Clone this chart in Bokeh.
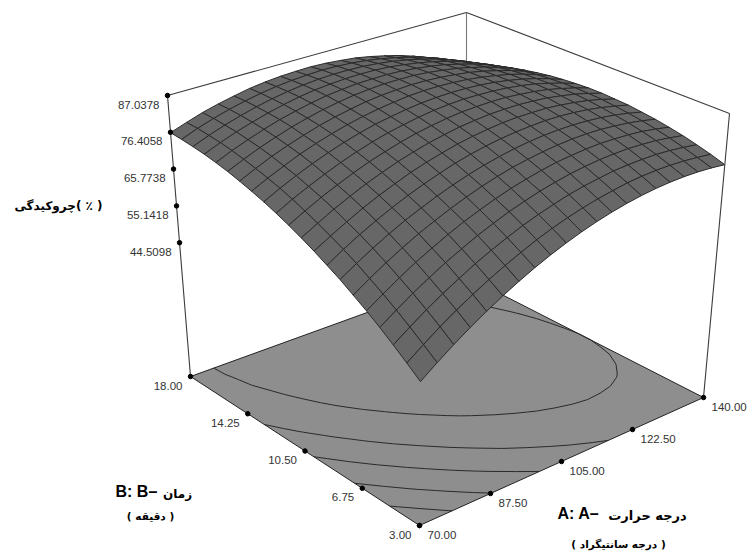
import numpy as np
from contourpy import contour_generator
from bokeh.plotting import figure
from bokeh.models import Range1d
from bokeh.core.properties import value
from bokeh.embed import file_html
from bokeh.resources import INLINE

# ---- data ----
A_ticks = [70.00, 87.50, 105.00, 122.50, 140.00]
A_labels = ["70.00", "87.50", "105.00", "122.50", "140.00"]
B_ticks = [3.00, 6.75, 10.50, 14.25, 18.00]
B_labels = ["3.00", "6.75", "10.50", "14.25", "18.00"]
Z_ticks = [44.5098, 55.1418, 65.7738, 76.4058, 87.0378]
Z_labels = ["44.5098", "55.1418", "65.7738", "76.4058", "87.0378"]
Z_floor = 5.84
contour_levels = [78.7, 71.5, 65.0, 58.0, 51.0]

A_grid = [70.0, 73.5, 77.0, 80.5, 84.0, 87.5, 91.0, 94.5, 98.0, 101.5, 105.0,
          108.5, 112.0, 115.5, 119.0, 122.5, 126.0, 129.5, 133.0, 136.5, 140.0]
B_grid = [3.0, 3.75, 4.5, 5.25, 6.0, 6.75, 7.5, 8.25, 9.0, 9.75, 10.5,
          11.25, 12.0, 12.75, 13.5, 14.25, 15.0, 15.75, 16.5, 17.25, 18.0]
# one row per B_grid value, one column per A_grid value
shrinkage = [
 [44.4,47.7,50.8,53.7,56.4,58.9,61.2,63.3,65.2,66.9,68.4,69.7,70.8,71.7,72.4,72.9,73.2,73.3,73.2,72.9,72.4],
 [47.3,50.5,53.6,56.4,59.0,61.4,63.6,65.6,67.5,69.1,70.5,71.7,72.7,73.5,74.2,74.6,74.8,74.8,74.6,74.2,73.7],
 [50.1,53.2,56.2,58.9,61.4,63.8,65.9,67.8,69.6,71.1,72.4,73.6,74.5,75.2,75.8,76.1,76.2,76.2,75.9,75.4,74.8],
 [52.8,55.8,58.7,61.3,63.8,66.0,68.1,69.9,71.6,73.0,74.3,75.3,76.2,76.8,77.3,77.5,77.6,77.4,77.1,76.5,75.8],
 [55.3,58.2,61.0,63.6,65.9,68.1,70.1,71.8,73.4,74.8,75.9,76.9,77.7,78.2,78.6,78.8,78.7,78.5,78.1,77.4,76.6],
 [57.6,60.5,63.2,65.7,68.0,70.0,71.9,73.6,75.1,76.4,77.5,78.3,79.0,79.5,79.8,79.9,79.8,79.4,78.9,78.2,77.3],
 [59.9,62.7,65.3,67.7,69.9,71.8,73.6,75.2,76.6,77.8,78.8,79.6,80.2,80.6,80.8,80.8,80.6,80.2,79.6,78.8,77.8],
 [61.9,64.7,67.2,69.5,71.6,73.5,75.2,76.7,78.1,79.2,80.1,80.8,81.3,81.6,81.8,81.7,81.4,80.9,80.2,79.3,78.3],
 [63.9,66.5,68.9,71.2,73.2,75.0,76.7,78.1,79.3,80.4,81.2,81.8,82.3,82.5,82.5,82.4,82.0,81.4,80.7,79.7,78.5],
 [65.7,68.2,70.6,72.7,74.7,76.4,78.0,79.3,80.5,81.4,82.2,82.7,83.1,83.2,83.2,82.9,82.5,81.8,81.0,79.9,78.7],
 [67.4,69.8,72.1,74.1,76.0,77.7,79.1,80.4,81.5,82.3,83.0,83.5,83.7,83.8,83.7,83.3,82.8,82.1,81.1,80.0,78.7],
 [68.9,71.3,73.4,75.4,77.2,78.8,80.2,81.4,82.3,83.1,83.7,84.1,84.3,84.2,84.0,83.6,83.0,82.2,81.1,79.9,78.5],
 [70.3,72.6,74.7,76.6,78.3,79.8,81.1,82.2,83.0,83.7,84.2,84.5,84.6,84.5,84.2,83.7,83.0,82.1,81.0,79.7,78.2],
 [71.5,73.7,75.7,77.6,79.2,80.6,81.8,82.8,83.6,84.2,84.7,84.9,84.9,84.7,84.3,83.7,82.9,82.0,80.8,79.4,77.8],
 [72.6,74.7,76.7,78.4,79.9,81.3,82.4,83.3,84.1,84.6,84.9,85.1,85.0,84.7,84.2,83.6,82.7,81.6,80.4,78.9,77.2],
 [73.6,75.6,77.5,79.1,80.6,81.8,82.9,83.7,84.4,84.8,85.1,85.1,85.0,84.6,84.0,83.3,82.3,81.2,79.8,78.3,76.5],
 [74.4,76.4,78.1,79.7,81.1,82.2,83.2,84.0,84.5,84.9,85.0,85.0,84.8,84.3,83.7,82.9,81.8,80.6,79.2,77.5,75.7],
 [75.1,77.0,78.7,80.1,81.4,82.5,83.4,84.1,84.5,84.8,84.9,84.8,84.5,83.9,83.2,82.3,81.2,79.9,78.3,76.6,74.7],
 [75.6,77.4,79.0,80.4,81.6,82.6,83.4,84.0,84.4,84.6,84.6,84.4,84.0,83.4,82.6,81.6,80.4,79.0,77.4,75.6,73.6],
 [76.0,77.8,79.3,80.6,81.7,82.6,83.3,83.8,84.1,84.3,84.2,83.9,83.4,82.7,81.8,80.7,79.5,78.0,76.3,74.4,72.3],
 [76.3,77.9,79.4,80.6,81.6,82.5,83.1,83.5,83.7,83.8,83.6,83.2,82.7,81.9,80.9,79.8,78.4,76.8,75.0,73.1,70.9],
]

# ---- camera: one plane mapping for the floor, one for the lid, fitted to the box corners ----
Amin, Amax, Bmin, Bmax, Ztop = 70.0, 140.0, 3.0, 18.0, 87.0378
unit_corners = [(0, 0), (1, 0), (1, 1), (0, 1)]      # (A-Amin)/(Amax-Amin), (B-Bmin)/(Bmax-Bmin)
floor_corners = [(419, 525), (703, 397), (466, 276), (190, 376)]
lid_corners = [(421, 222), (729, 113), (466, 12), (167, 95)]

def plane(corners):
    M, r = [], []
    for (u, v), (x, y) in zip(unit_corners, corners):
        M.append([u, v, 1, 0, 0, 0, -x * u, -x * v]); r.append(x)
        M.append([0, 0, 0, u, v, 1, -y * u, -y * v]); r.append(y)
    return np.append(np.linalg.solve(np.array(M, float), np.array(r, float)), 1.0).reshape(3, 3)
H_floor, H_lid = plane(floor_corners), plane(lid_corners)

def on_plane(H, u, v):
    w = H[2, 0] * u + H[2, 1] * v + H[2, 2]
    return (H[0, 0] * u + H[0, 1] * v + H[0, 2]) / w, (H[1, 0] * u + H[1, 1] * v + H[1, 2]) / w

def project(A, B, Z):
    u = (np.asarray(A, float) - Amin) / (Amax - Amin)
    v = (np.asarray(B, float) - Bmin) / (Bmax - Bmin)
    t = (np.asarray(Z, float) - Z_floor) / (Ztop - Z_floor)
    x0, y0 = on_plane(H_floor, u, v)
    x1, y1 = on_plane(H_lid, u, v)
    return x0 + (x1 - x0) * t, y0 + (y1 - y0) * t

FRAME = "#3c3c3c"
p = figure(width=747, height=553, x_range=Range1d(0, 747), y_range=Range1d(553, 0),
           output_backend="svg", toolbar_location=None, min_border=0)
p.xaxis.visible = False
p.yaxis.visible = False
p.grid.visible = False
p.outline_line_color = None
p.background_fill_color = "white"

def seg(A1, B1, Z1, A2, B2, Z2, color=FRAME, width=1.1):
    x, y = project([A1, A2], [B1, B2], [Z1, Z2])
    p.line(list(x), list(y), line_color=color, line_width=width)

# back vertical, behind everything
seg(Amax, Bmax, Z_floor, Amax, Bmax, Ztop, "#777777")

# floor
fa, fb = [Amin, Amin, Amax, Amax], [Bmax, Bmin, Bmin, Bmax]
fx, fy = project(fa, fb, [Z_floor] * 4)
p.patch(list(fx), list(fy), fill_color="#8e8e8e", line_color="#222222", line_width=1)

# floor contours
Zg = np.array(shrinkage)
gen = contour_generator(x=np.array(A_grid), y=np.array(B_grid), z=Zg)
cx, cy = [], []
for lev in contour_levels:
    for ln in gen.lines(lev):
        x, y = project(ln[:, 0], ln[:, 1], np.full(len(ln), Z_floor))
        cx.append(list(x)); cy.append(list(y))
p.multi_line(cx, cy, line_color="#2a2a2a", line_width=1)

# surface, drawn from the back corner forward
quads = []
for j in range(len(B_grid) - 1):
    for i in range(len(A_grid) - 1):
        quads.append((i + j, i, j))
quads.sort(key=lambda q: -q[0])
sx, sy = [], []
for _, i, j in quads:
    qa = [A_grid[i], A_grid[i + 1], A_grid[i + 1], A_grid[i]]
    qb = [B_grid[j], B_grid[j], B_grid[j + 1], B_grid[j + 1]]
    qz = [Zg[j, i], Zg[j, i + 1], Zg[j + 1, i + 1], Zg[j + 1, i]]
    x, y = project(qa, qb, qz)
    sx.append(list(x)); sy.append(list(y))
p.patches(sx, sy, fill_color="#676767", line_color="#2b2b2b", line_width=1)

# box frame
seg(Amin, Bmax, Ztop, Amax, Bmax, Ztop)
seg(Amax, Bmax, Ztop, Amax, Bmin, Ztop)
seg(Amin, Bmax, Z_floor, Amin, Bmax, Ztop)
seg(Amax, Bmin, Z_floor, Amax, Bmin, Ztop)

# ticks sit evenly along each projected box edge, as in the picture
def along(start, end, frac):
    f = np.asarray(frac, float)
    sx_, sy_ = project(*start)
    ex_, ey_ = project(*end)
    return sx_ + (ex_ - sx_) * f, sy_ + (ey_ - sy_) * f

zx, zy = along((Amin, Bmax, Z_floor), (Amin, Bmax, Ztop),
               (np.array(Z_ticks) - Z_floor) / (Ztop - Z_floor))
bx, by = along((Amin, Bmin, Z_floor), (Amin, Bmax, Z_floor),
               (np.array(B_ticks) - Bmin) / (Bmax - Bmin))
ax, ay = along((Amin, Bmin, Z_floor), (Amax, Bmin, Z_floor),
               (np.array(A_ticks) - Amin) / (Amax - Amin))
for x, y in ((zx, zy), (bx, by), (ax, ay)):
    p.scatter(list(x), list(y), size=4.5, color="black")

FONT = value("Liberation Sans")
def tick_text(x, y, labels, align, dx, dy):
    p.text(list(x), list(y), text=labels, x_offset=dx, y_offset=dy, text_font=FONT,
           text_font_size="11.5px", text_color="#333333", text_align=align,
           text_baseline="middle")
tick_text(zx, zy, Z_labels, "right", -8, 9)
tick_text(bx, by, B_labels, "right", -8, 9)
tick_text(ax, ay, A_labels, "left", 8, 9)

# axis titles
FA = value("DejaVu Sans")
def title(x, y, s, size, align="center", font=FA, style="bold"):
    p.text([x], [y], text=[s], text_font=font, text_font_size=size, text_font_style=style,
           text_color="black", text_align=align, text_baseline="middle")
title(58, 205, "چروکیدگی( ٪ )", "12px")
title(557, 513, "A: A–", "16px", "left", FONT)
title(647, 515, "درجه حرارت", "13px")
title(618, 543, "( درجه سانتیگراد )", "10.5px")
title(115, 491, "B: B–", "16px", "left", FONT)
title(177, 493, "زمان", "12px")
title(150, 515, "( دقیقه )", "10.5px")

open("out.html", "w").write(file_html(p, INLINE))
